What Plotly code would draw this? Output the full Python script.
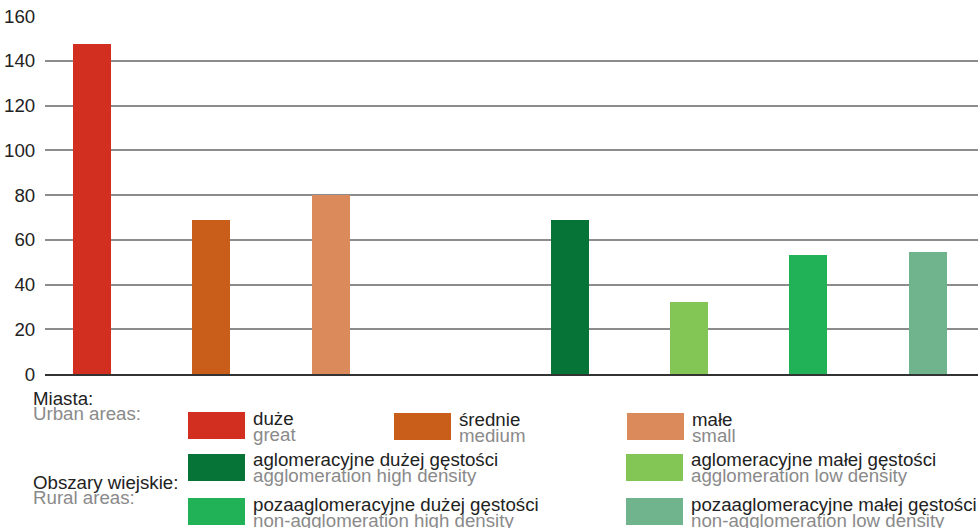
import plotly.graph_objects as go

# ---- data ----
categories = ["duże", "średnie", "małe",
              "aglomeracyjne dużej gęstości", "aglomeracyjne małej gęstości",
              "pozaaglomeracyjne dużej gęstości", "pozaaglomeracyjne małej gęstości"]
categories_en = ["great", "medium", "small",
                 "agglomeration high density", "agglomeration low density",
                 "non-agglomeration high density", "non-agglomeration low density"]
values = [147.5, 69, 80, 69, 32.2, 53.2, 54.5]
slots = [0, 1, 2, 4, 5, 6, 7]
colors = ["#D32F20", "#C85E1A", "#DB8A5C", "#077437", "#84C655", "#21B156", "#6FB48D"]
yticks = [0, 20, 40, 60, 80, 100, 120, 140, 160]

W, H = 978, 528
PLOT_L, PLOT_R, PLOT_T, PLOT_B = 45, 978, 16, 374   # screen pixels
ML, MR, MT, MB = PLOT_L, W - PLOT_R, PLOT_T, H - PLOT_B
PW, PH = W - ML - MR, H - MT - MB

def px(x):
    return (x - PLOT_L) / PW

def py(y):
    return (PLOT_B - y) / PH

FONT = "Liberation Sans, Arial, sans-serif"
FS = 18.7

fig = go.Figure()
fig.add_trace(go.Bar(
    x=slots, y=values, width=0.318,
    marker=dict(color=colors, line=dict(width=0)),
    hovertext=categories, showlegend=False,
))

shapes = []
annotations = []

def label(x, y, text, color):
    annotations.append(dict(
        x=px(x), y=py(y), xref="paper", yref="paper", text=text,
        showarrow=False, xanchor="left", yanchor="middle",
        font=dict(family=FONT, size=FS, color=color)))

# group headings
label(31, 398, "Miasta:", "#222222")
label(31, 413, "Urban areas:", "#8a8a8a")
label(31, 482, "Obszary wiejskie:", "#222222")
label(31, 497, "Rural areas:", "#8a8a8a")

# legend layout: (swatch left, swatch top) per category, screen pixels
legend_pos = [(188, 412), (394, 413), (627, 413),
              (188, 454), (626, 454),
              (188, 498), (626, 498)]
for i, (lx, ly) in enumerate(legend_pos):
    shapes.append(dict(type="rect", xref="paper", yref="paper",
                       x0=px(lx), x1=px(lx + 57), y0=py(ly), y1=py(ly + 27),
                       fillcolor=colors[i], line=dict(width=0), layer="above"))
    label(lx + 63, ly + 6, categories[i], "#222222")
    label(lx + 63, ly + 22, categories_en[i], "#8a8a8a")

fig.update_layout(
    width=W, height=H,
    margin=dict(l=ML, r=MR, t=MT, b=MB, pad=0, autoexpand=False),
    paper_bgcolor="white", plot_bgcolor="white",
    font=dict(family=FONT, size=FS, color="#222222"),
    bargap=0,
    xaxis=dict(range=[-0.394, 7.42], showticklabels=False, showgrid=False,
               zeroline=False, showline=True, linecolor="#333333", linewidth=2,
               ticks="", automargin=False),
    yaxis=dict(range=[0, 160.1], tickvals=yticks, showgrid=True,
               gridcolor="#8c8c8c", gridwidth=1.5, zeroline=False,
               ticks="outside", ticklen=5, tickcolor="rgba(0,0,0,0)",
               automargin=False,
               tickfont=dict(family=FONT, size=FS, color="#222222")),
    shapes=shapes, annotations=annotations,
)

fig.write_html(
    "out.html",
    config={"displayModeBar": False},
    post_script="document.body.style.margin='0';document.body.style.overflow='hidden';",
)
